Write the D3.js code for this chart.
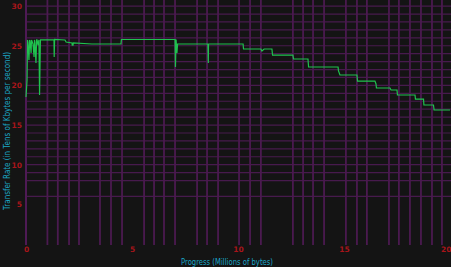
<!DOCTYPE html>
<html><head><meta charset="utf-8">
<script src="https://cdn.jsdelivr.net/npm/d3@7"></script>
<style>html,body{margin:0;padding:0;background:#141414;overflow:hidden}</style>
</head><body><svg id="c" width="451" height="267"></svg>
<script>
// Progress (millions of bytes) and transfer rate (tens of KB/s)
const progress = [0.00,0.05,0.07,0.09,0.14,0.17,0.19,0.24,0.26,0.28,0.33,0.38,0.40,0.42,0.47,0.50,0.52,0.57,0.61,0.64,0.68,
  1.32,1.33,1.35,1.84,1.89,2.17,2.18,2.22,2.23,3.11,4.48,4.50,7.03,7.05,7.08,7.12,7.15,8.58,8.60,8.61,
  10.24,10.26,11.08,11.13,11.23,11.60,11.63,12.59,12.62,13.30,13.33,14.72,14.74,14.81,15.61,15.64,
  16.46,16.51,16.53,17.17,17.22,17.50,17.52,18.35,18.37,18.75,18.77,19.22,19.25,20.00];
const rate = [18.54,20.68,25.73,25.47,23.20,25.73,25.60,24.09,25.73,25.60,25.22,23.58,25.73,25.47,22.82,25.73,25.73,25.09,25.73,18.79,25.73,
  25.73,23.58,25.79,25.73,25.47,25.35,25.09,25.09,25.35,25.22,25.22,25.79,25.79,22.32,25.79,24.09,25.22,25.22,22.82,25.22,
  25.22,24.59,24.59,24.34,24.59,24.59,23.83,23.83,23.33,23.33,22.32,22.32,21.82,21.31,21.31,20.55,
  20.55,20.18,19.67,19.67,19.42,19.42,18.79,18.79,18.28,18.28,17.53,17.53,16.90,16.90];
const xTickValues = [0,5,10,15,20];
const yTickValues = [5,10,15,20,25,30];
const xGridValues = [1.01,1.5,2.03,2.5,3.49,4.01,4.53,5.57,6.04,6.51,7.03,8.07,8.54,9.06,10.05,10.57,11.08,
  12.59,13.07,13.54,14.06,15.09,15.61,16.08,17.12,17.59,18.11,18.63,19.15,19.62];
const yGridValues = [30,29,28,27,26,25,24,23,22,21,20,19,18,17,16,15,14,13,12,11,10,9,8,6];

(function(){
const svg = d3.select('#c');
const W = 451, H = 267;
const mLeft = 26, mRight = 450, mTop = 0, mBottom = 244;
const x = d3.scaleLinear().domain([0,20]).range([mLeft,mRight]);
const y = d3.scaleLinear().domain([0,30.77]).range([mBottom,mTop]);

svg.append('rect').attr('width',W).attr('height',H).attr('fill','#141414');

const grid = svg.append('g');
grid.selectAll('line.h').data(yGridValues).join('line').attr('class','h')
  .attr('x1',mLeft).attr('x2',W).attr('y1',d=>y(d)).attr('y2',d=>y(d))
  .attr('stroke','#471a4d').attr('stroke-width',1.2);
grid.selectAll('line.v').data(xGridValues).join('line').attr('class','v')
  .attr('x1',d=>x(d)).attr('x2',d=>x(d)).attr('y1',mTop).attr('y2',mBottom+1)
  .attr('stroke','#4b1a50').attr('stroke-width',1.8);
grid.append('line').attr('x1',mLeft).attr('x2',mLeft).attr('y1',mTop).attr('y2',mBottom+1)
  .attr('stroke','#4e1a55').attr('stroke-width',2);

const pts = progress.map((p,i)=>[p,rate[i]]);
svg.append('path').datum(pts)
  .attr('d', d3.line().x(d=>x(d[0])).y(d=>y(d[1])))
  .attr('fill','none').attr('stroke','#1fc24e').attr('stroke-width',1.2);

const yAxis = svg.append('g').attr('transform',`translate(${mLeft},0)`)
  .call(d3.axisLeft(y).tickValues(yTickValues).tickSize(0).tickPadding(4).tickFormat(d3.format('d')));
const xAxis = svg.append('g').attr('transform',`translate(0,${mBottom})`)
  .call(d3.axisBottom(x).tickValues(xTickValues).tickSize(0).tickPadding(3).tickFormat(d3.format('d')));
[yAxis,xAxis].forEach(a=>{
  a.select('.domain').remove();
  a.selectAll('text').attr('fill','#a8141a').attr('font-family','DejaVu Sans').attr('font-size',7.5).attr('font-weight','bold');
});
xAxis.selectAll('.tick').filter(d=>d===20).select('text').attr('text-anchor','end').attr('x',1);

svg.append('text').text('Progress (Millions of bytes)')
  .attr('x',227).attr('y',265).attr('text-anchor','middle')
  .attr('font-family','DejaVu Sans').attr('font-size',8).attr('fill','#1aa6c6')
  .attr('textLength',92).attr('lengthAdjust','spacingAndGlyphs');
svg.append('text').text('Transfer Rate (in Tens of Kbytes per second)')
  .attr('transform','translate(10,131) rotate(-90)').attr('text-anchor','middle')
  .attr('font-family','DejaVu Sans').attr('font-size',8).attr('fill','#1aa6c6')
  .attr('textLength',158).attr('lengthAdjust','spacingAndGlyphs');
})();
</script></body></html>
